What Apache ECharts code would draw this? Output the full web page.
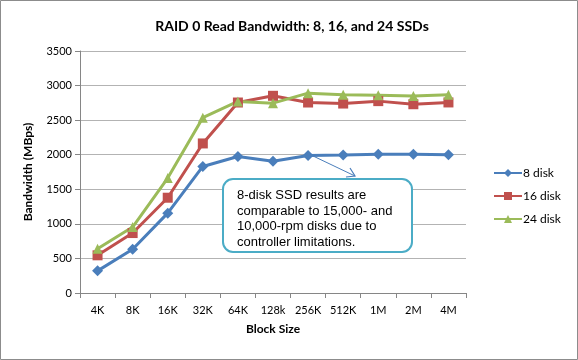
<!DOCTYPE html>
<html><head><meta charset="utf-8">
<script src="https://cdn.jsdelivr.net/npm/echarts@6/dist/echarts.min.js"></script>
<style>html,body{margin:0;padding:0;background:#fff}#c{width:578px;height:360px}</style>
</head><body><div id="c"></div>
<script>
const categories = ['4K','8K','16K','32K','64K','128k','256K','512K','1M','2M','4M'];
const disk8  = [320, 633, 1155, 1830, 1975, 1905, 1990, 1995, 2005, 2005, 2000];
const disk16 = [545, 867, 1378, 2163, 2755, 2852, 2755, 2740, 2775, 2730, 2756];
const disk24 = [641, 954, 1662, 2535, 2770, 2746, 2890, 2867, 2861, 2848, 2867];
const yTicks = [0, 500, 1000, 1500, 2000, 2500, 3000, 3500];
const calloutLines = ['8-disk SSD results are','comparable to 15,000- and','10,000-rpm disks due to','controller limitations.'];

const font = 'Lato, "Open Sans", sans-serif';
const chart = echarts.init(document.getElementById('c'), null, {renderer:'canvas'});
function s(name, data, color, symbol, size){
  return {name, type:'line', data, symbol, symbolSize:size,
    lineStyle:{color, width:3}, itemStyle:{color}, z: 3};
}
chart.setOption({
  animation:false,
  backgroundColor:'#fff',
  title:{text:'RAID 0 Read Bandwidth: 8, 16, and 24 SSDs', left:287, textAlign:'center', top:14,
    textStyle:{fontFamily:font, fontWeight:'bold', fontSize:14, color:'#000'}},
  grid:{left:80, right:112, top:51, bottom:67},
  legend:{orient:'vertical', left:488, top:162, itemGap:11, itemWidth:28, itemHeight:10,
    textStyle:{fontFamily:font, fontSize:12, color:'#000', padding:[0,0,0,-4]},
    data:['8 disk','16 disk','24 disk']},
  xAxis:{type:'category', data:categories, boundaryGap:true,
    name:'Block Size', nameLocation:'middle', nameGap:30,
    nameTextStyle:{fontFamily:font, fontWeight:'bold', fontSize:12, color:'#000'},
    axisLine:{lineStyle:{color:'#868686'}},
    axisTick:{show:true, length:5, lineStyle:{color:'#868686'}},
    axisLabel:{fontFamily:font, fontSize:11, color:'#000', margin:12}},
  yAxis:{type:'value', min:yTicks[0], max:yTicks[yTicks.length-1], interval:500,
    name:'Bandwidth (MBps)', nameLocation:'middle', nameGap:46, nameRotate:90,
    nameTextStyle:{fontFamily:font, fontWeight:'bold', fontSize:12, color:'#000'},
    axisLine:{show:true, lineStyle:{color:'#868686'}},
    axisTick:{show:true, length:5, lineStyle:{color:'#868686'}},
    splitLine:{lineStyle:{color:'#B3B3B3'}},
    axisLabel:{fontFamily:font, fontSize:11, color:'#000', margin:8, formatter: v => String(v)}},
  series:[
    s('8 disk', disk8, '#4A7EBB', 'diamond', 11),
    s('16 disk', disk16, '#C0504D', 'rect', 10),
    s('24 disk', disk24, '#9BBB59', 'triangle', 10)
  ],
  graphic:[
    {type:'rect', shape:{x:0.5, y:0.5, width:577, height:359}, style:{fill:null, stroke:'#8C8C8C', lineWidth:1}, z:0, silent:true},
    {type:'line', shape:{x1:311, y1:155, x2:355, y2:176}, style:{stroke:'#4A7EBB', lineWidth:1}, z:10},
    {type:'polyline', shape:{points:[[346,177],[355,176],[350,168]]}, style:{stroke:'#4A7EBB', lineWidth:1.2, fill:null}, z:10},
    {type:'rect', shape:{x:223, y:179, width:189, height:73, r:10},
      style:{fill:'#fff', stroke:'#4BACC6', lineWidth:2}, z:20},
    {type:'text', left:237, top:188, z:21,
      style:{text:calloutLines.join('\n'), fontFamily:'"Liberation Sans", Arial, sans-serif', fontSize:13, lineHeight:15.5, fill:'#000'}}
  ]
});
</script></body></html>
